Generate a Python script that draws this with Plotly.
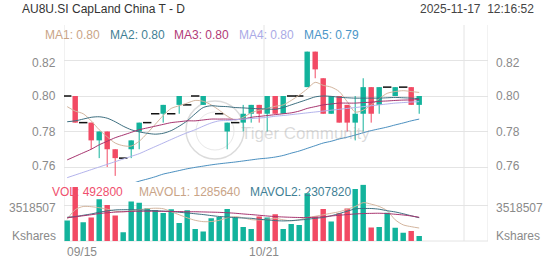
import plotly.graph_objects as go

# ---------------- data ----------------
dates = [
    "09/15", "09/16", "09/17", "09/18", "09/19", "09/22", "09/23", "09/24", "09/25", "09/26",
    "09/29", "09/30", "10/01", "10/02", "10/03", "10/06", "10/07", "10/08", "10/09", "10/10",
    "10/13", "10/14", "10/15", "10/16", "10/17", "10/21", "10/22", "10/23", "10/24", "10/27",
    "10/28", "10/29", "10/30", "10/31", "11/03", "11/04", "11/05", "11/06", "11/07", "11/10",
    "11/11", "11/12", "11/13", "11/14", "11/17",
]
opens = [
    0.800, 0.800, 0.785, 0.785, 0.775, 0.780, 0.770, 0.765, 0.770, 0.780,
    0.785, 0.790, 0.790, 0.790, 0.795, 0.795, 0.800, 0.795, None, 0.790,
    0.780, 0.785, 0.785, 0.790, 0.795, 0.790, 0.800, 0.790, 0.800, 0.800,
    0.805, 0.825, 0.810, 0.790, 0.800, 0.795, 0.785, 0.790, 0.805, 0.795,
    0.805, 0.800, 0.805, 0.805, 0.795,
]
highs = [
    0.800, 0.800, 0.785, 0.785, 0.780, 0.780, 0.770, 0.765, 0.775, 0.785,
    0.785, 0.790, 0.795, 0.790, 0.800, 0.795, 0.800, 0.800, None, 0.790,
    0.785, 0.785, 0.795, 0.795, 0.795, 0.800, 0.800, 0.800, 0.800, 0.800,
    0.825, 0.825, 0.810, 0.800, 0.800, 0.795, 0.800, 0.810, 0.805, 0.805,
    0.805, 0.805, 0.805, 0.805, 0.800,
]
lows = [
    0.800, 0.785, 0.785, 0.770, 0.765, 0.760, 0.755, 0.765, 0.765, 0.770,
    0.785, 0.790, 0.785, 0.790, 0.790, 0.795, 0.800, 0.795, None, 0.790,
    0.770, 0.785, 0.780, 0.785, 0.785, 0.780, 0.790, 0.790, 0.800, 0.800,
    0.805, 0.810, 0.790, 0.790, 0.785, 0.780, 0.775, 0.780, 0.785, 0.790,
    0.805, 0.800, 0.805, 0.795, 0.790,
]
closes = [
    0.800, 0.785, 0.785, 0.775, 0.780, 0.770, 0.765, 0.765, 0.775, 0.785,
    0.785, 0.790, 0.795, 0.790, 0.800, 0.795, 0.800, 0.800, None, 0.790,
    0.785, 0.785, 0.790, 0.795, 0.790, 0.800, 0.790, 0.800, 0.800, 0.800,
    0.825, 0.815, 0.790, 0.800, 0.785, 0.785, 0.790, 0.805, 0.790, 0.805,
    0.805, 0.805, 0.805, 0.795, 0.800,
]
volumes = [
    2030000, 5340000, 1860000, 2330000, 4140000, 3580000, 2520000, 860000, 3920000, 3780000,
    3250000, 3080000, 2780000, 3150000, 1790000, 3050000, 1190000, 930000, 2260000, 2390000,
    3180000, 2330000, 1390000, 1190000, 2430000, 2330000, 2650000, 1190000, 1690000, 1590000,
    4740000, 2430000, 3180000, 1930000, 2750000, 3220000, 5150000, 5570000, 1330000, 1390000,
    2800000, 1320000, 830000, 985000, 492800,
]

ma1 = [
    0.7940, 0.7915, 0.7900, 0.7860, 0.7810, 0.7770, 0.7735, 0.7720, 0.7718, 0.7745,
    0.7790, 0.7840, 0.7890, 0.7930, 0.7945, 0.7960, 0.7975, 0.7970, 0.7950, 0.7920,
    0.7887, 0.7865, 0.7880, 0.7905, 0.7920, 0.7930, 0.7942, 0.7950, 0.7975, 0.8005,
    0.8040, 0.8077, 0.8060, 0.8050, 0.8025, 0.7968, 0.7910, 0.7920, 0.7950, 0.7985,
    0.8015, 0.8025, 0.8030, 0.8025, 0.8020,
]
ma2 = [
    0.7855, 0.7860, 0.7870, 0.7880, 0.7883, 0.7875, 0.7855, 0.7830, 0.7810, 0.7798,
    0.7790, 0.7785, 0.7790, 0.7805, 0.7830, 0.7860, 0.7900, 0.7935, 0.7945, 0.7942,
    0.7940, 0.7935, 0.7933, 0.7930, 0.7928, 0.7927, 0.7925, 0.7935, 0.7950, 0.7965,
    0.7980, 0.7995, 0.8000, 0.7998, 0.7993, 0.7990, 0.7988, 0.7988, 0.7988, 0.7988,
    0.7990, 0.7992, 0.7990, 0.7988, 0.7985,
]
ma3 = [
    0.7640, 0.7660, 0.7680, 0.7700, 0.7725, 0.7745, 0.7765, 0.7780, 0.7795, 0.7810,
    0.7820, 0.7830, 0.7840, 0.7850, 0.7855, 0.7860, 0.7860, 0.7865, 0.7870, 0.7870,
    0.7870, 0.7868, 0.7870, 0.7880, 0.7885, 0.7890, 0.7895, 0.7900, 0.7905, 0.7915,
    0.7930, 0.7940, 0.7950, 0.7955, 0.7960, 0.7960, 0.7960, 0.7963, 0.7965, 0.7970,
    0.7972, 0.7975, 0.7977, 0.7978, 0.7980,
]
ma4 = [
    0.7540, 0.7555, 0.7570, 0.7585, 0.7600, 0.7615, 0.7630, 0.7645, 0.7660, 0.7675,
    0.7695, 0.7715, 0.7735, 0.7755, 0.7775, 0.7793, 0.7810, 0.7830, 0.7848, 0.7860,
    0.7862, 0.7866, 0.7870, 0.7873, 0.7876, 0.7880, 0.7886, 0.7890, 0.7895, 0.7900,
    0.7905, 0.7910, 0.7915, 0.7920, 0.7925, 0.7930, 0.7935, 0.7940, 0.7945, 0.7950,
    0.7955, 0.7960, 0.7963, 0.7966, 0.7968,
]
ma5 = [
    None, None, None, None, None, None, None, None, 0.7505, 0.7520,
    0.7532, 0.7545, 0.7560, 0.7570, 0.7580, 0.7590, 0.7598, 0.7605, 0.7612, 0.7618,
    0.7623, 0.7628, 0.7634, 0.7640, 0.7646, 0.7650, 0.7656, 0.7665, 0.7678, 0.7690,
    0.7705, 0.7720, 0.7735, 0.7745, 0.7758, 0.7768, 0.7780, 0.7793, 0.7805, 0.7815,
    0.7825, 0.7837, 0.7848, 0.7860, 0.7870,
]

mavol1 = [
    2150000, 3100000, 3420000, 3400000, 3300000, 3150000, 2950000, 2900000, 2980000, 3100000,
    3200000, 3250000, 3200000, 2900000, 2600000, 2300000, 2050000, 1920000, 1930000, 2050000,
    2300000, 2420000, 2300000, 2120000, 2080000, 2150000, 2240000, 2100000, 2000000, 2100000,
    2330000, 2450000, 2600000, 2750000, 2900000, 3150000, 3420000, 3800000, 3650000, 3420000,
    3000000, 2100000, 1600000, 1420000, 1285640,
]
mavol2 = [
    2350000, 2420000, 2550000, 2680000, 2850000, 2980000, 3080000, 3100000, 3100000, 3080000,
    3050000, 3000000, 2960000, 2920000, 2850000, 2780000, 2700000, 2620000, 2520000, 2430000,
    2380000, 2320000, 2280000, 2250000, 2150000, 2100000, 2020000, 1990000, 2020000, 2080000,
    2150000, 2250000, 2330000, 2500000, 2720000, 2950000, 3180000, 3220000, 3220000, 3150000,
    3000000, 2880000, 2700000, 2500000, 2307820,
]
mavol3 = [
    2300000, 2400000, 2500000, 2600000, 2720000, 2800000, 2860000, 2900000, 2930000, 2950000,
    2950000, 2950000, 2940000, 2930000, 2920000, 2900000, 2900000, 2880000, 2860000, 2840000,
    2800000, 2750000, 2680000, 2620000, 2550000, 2480000, 2420000, 2380000, 2350000, 2330000,
    2320000, 2350000, 2400000, 2480000, 2550000, 2620000, 2680000, 2720000, 2740000, 2750000,
    2720000, 2650000, 2580000, 2480000, 2350000,
]

price_ticks = [0.76, 0.78, 0.80, 0.82]
volume_ticks = [3518507]
date_labels = ["09/15", "10/21"]

title_text = "AU8U.SI CapLand China T - D"
timestamp_text = "2025-11-17\u00a0 12:16:52"
volume_unit = "Kshares"
watermark_text = "Tiger Community"

# ---------------- styling / geometry ----------------
FONT = "Liberation Sans, Arial, sans-serif"
UP = "#13b39c"
DOWN = "#f24a64"
GRID = "#e4e4e4"
LABEL = "#8a8a8a"
MA_COLORS = ["#c9a487", "#3f7f95", "#b13a77", "#aaaae6", "#4b96c8"]
MA_LINE_COLORS = ["#d3b59e", "#3d6f80", "#a7346f", "#b3b3ec", "#4a8fbf"]
VOL_LINE_COLORS = ["#d3b59e", "#3d6f80", "#a7346f"]

W, H = 552, 265
ML, MR, MT, MB = 64, 64, 25, 24
PW, PH = W - ML - MR, H - MT - MB
SLOTS = 53                    # x-axis slots (one per trading day)
BAR_OFFSET = 0.4              # bar centre inside its slot
BAR_W = 0.68
PRICE_RANGE = [0.75155, 0.84]
VOL_RANGE = [0, 5.6e6]
PRICE_TOP_PX, PRICE_BOTTOM_PX = 25, 182
VOL_TOP_PX = 184.5


def px_x(px):
    return (px - ML) / PW


def px_y(py):
    return (MT + PH - py) / PH


n = len(dates)
xs = [i + BAR_OFFSET for i in range(n)]

# ---------------- candles ----------------
body_x, body_base, body_h, body_col = [], [], [], []
doji_x, doji_y = [], []
wicks = {UP: ([], []), DOWN: ([], [])}
for x, o, h, l, c in zip(xs, opens, highs, lows, closes):
    if o is None:
        continue
    if o == c:
        doji_x.append(x)
        doji_y.append(c)
        continue
    col = UP if c > o else DOWN
    body_x.append(x)
    body_base.append(min(o, c))
    body_h.append(abs(c - o))
    body_col.append(col)
    if h > l:
        wx, wy = wicks[col]
        wx += [x, x, None]
        wy += [l, h, None]

fig = go.Figure()

for col, (wx, wy) in wicks.items():
    fig.add_trace(go.Scatter(x=wx, y=wy, mode="lines", line=dict(color=col, width=1),
                             xaxis="x", yaxis="y", hoverinfo="skip"))

fig.add_trace(go.Bar(x=body_x, y=body_h, base=body_base, width=BAR_W,
                     marker=dict(color=body_col, line=dict(width=0)),
                     xaxis="x", yaxis="y"))

fig.add_trace(go.Scatter(x=doji_x, y=doji_y, mode="markers",
                         marker=dict(symbol="line-ew", size=6, line=dict(color="#111111", width=1.5)),
                         xaxis="x", yaxis="y"))

for series, col in zip([ma1, ma2, ma3, ma4, ma5], MA_LINE_COLORS):
    fig.add_trace(go.Scatter(x=xs, y=series, mode="lines",
                             line=dict(color=col, width=1, shape="spline", smoothing=0.8),
                             connectgaps=False, xaxis="x", yaxis="y"))

# ---------------- volume ----------------
vol_col = [UP if (o is None or c >= o) else DOWN for o, c in zip(opens, closes)]
fig.add_trace(go.Bar(x=xs, y=volumes, width=BAR_W,
                     marker=dict(color=vol_col, line=dict(width=0)),
                     xaxis="x2", yaxis="y2"))

for series, col in zip([mavol1, mavol2, mavol3], VOL_LINE_COLORS):
    fig.add_trace(go.Scatter(x=xs, y=series, mode="lines",
                             line=dict(color=col, width=1, shape="spline", smoothing=0.8),
                             xaxis="x2", yaxis="y2"))

# ---------------- grid / frame ----------------
shapes = []
for gx in [0, 25, 50, SLOTS]:
    shapes.append(dict(type="line", xref="x", yref="paper", x0=gx, x1=gx, y0=0, y1=1,
                       line=dict(color=GRID, width=1), layer="below"))
shapes.append(dict(type="line", xref="paper", yref="paper", x0=0, x1=1, y0=0, y1=0,
                   line=dict(color=GRID, width=1), layer="below"))
# watermark emblem
shapes.append(dict(type="circle", xref="paper", yref="paper",
                   x0=px_x(186), x1=px_x(244), y0=px_y(159), y1=px_y(101),
                   line=dict(color="rgba(175,175,175,0.45)", width=1.5), layer="below"))
shapes.append(dict(type="circle", xref="paper", yref="paper",
                   x0=px_x(196), x1=px_x(234), y0=px_y(150), y1=px_y(112),
                   line=dict(color="rgba(175,175,175,0.3)", width=1), layer="below"))

# ---------------- text ----------------
ann = []


def text(x, y, s, color, anchor="left", size=12, xref="paper", yref="paper", yshift=0):
    ann.append(dict(x=x, y=y, xref=xref, yref=yref, text=s, showarrow=False,
                    xanchor=anchor, yanchor="middle", yshift=yshift,
                    font=dict(family=FONT, size=size, color=color)))


text(px_x(20), px_y(9), title_text, "#333333")
text(px_x(535.5), px_y(9), timestamp_text, "#444444", anchor="right")

ma_values = [ma1[-1], ma2[-1], ma3[-1], ma4[-1], ma5[-1]]
for k, (v, col, lx) in enumerate(zip(ma_values, MA_COLORS, [43, 108, 172, 237, 302]), start=1):
    text(px_x(lx), px_y(34.5), f"MA{k}: {v:.2f}", col)

text(px_x(50), px_y(191.5), f"VOL: {volumes[-1]}", "#f0506e")
text(px_x(137), px_y(191.5), f"MAVOL1: {mavol1[-1]}", MA_COLORS[0])
text(px_x(248), px_y(191.5), f"MAVOL2: {mavol2[-1]}", MA_COLORS[1])

# price scale labels on both sides, kept inside the pane
price_px_h = PRICE_BOTTOM_PX - PRICE_TOP_PX
for t in price_ticks:
    py = PRICE_TOP_PX + (PRICE_RANGE[1] - t) / (PRICE_RANGE[1] - PRICE_RANGE[0]) * price_px_h
    py = min(max(py, 63), 165.5)
    text(px_x(58), px_y(py), f"{t:.2f}", LABEL, anchor="right")
    text(px_x(494), px_y(py), f"{t:.2f}", LABEL)

for t in volume_ticks:
    text(-6 / PW, t, str(t), LABEL, anchor="right", yref="y2", yshift=-2)
    text(1 + 6 / PW, t, str(t), LABEL, yref="y2", yshift=-2)
text(px_x(57.5), px_y(235.5), volume_unit, LABEL, anchor="right")
text(px_x(494), px_y(235.5), volume_unit, LABEL)

for d in date_labels:
    i = dates.index(d)
    if i == 0:
        text(px_x(65), px_y(252), d, LABEL)
    else:
        text(i, px_y(252), d, LABEL, anchor="center", xref="x")

ann.append(dict(x=px_x(305), y=px_y(133), xref="paper", yref="paper", text=watermark_text,
                showarrow=False, xanchor="center", yanchor="middle",
                font=dict(family=FONT, size=17, color="rgba(150,150,150,0.35)")))

axis_common = dict(showline=False, zeroline=False, showticklabels=False, ticks="")
fig.update_layout(
    width=W, height=H,
    margin=dict(l=ML, r=MR, t=MT, b=MB, pad=0),
    paper_bgcolor="white", plot_bgcolor="white",
    showlegend=False, barmode="overlay", hovermode=False,
    xaxis=dict(range=[0, SLOTS], domain=[0, 1], anchor="y", showgrid=False, **axis_common),
    yaxis=dict(range=PRICE_RANGE, domain=[px_y(PRICE_BOTTOM_PX), 1], anchor="x",
               tickvals=price_ticks, showgrid=True, gridcolor=GRID, gridwidth=1, **axis_common),
    xaxis2=dict(range=[0, SLOTS], domain=[0, 1], anchor="y2", matches="x", showgrid=False, **axis_common),
    yaxis2=dict(range=VOL_RANGE, domain=[0, px_y(VOL_TOP_PX)], anchor="x2",
                tickvals=volume_ticks, showgrid=True, gridcolor=GRID, gridwidth=1, **axis_common),
    shapes=shapes,
    annotations=ann,
)

fig.write_html("out.html")
